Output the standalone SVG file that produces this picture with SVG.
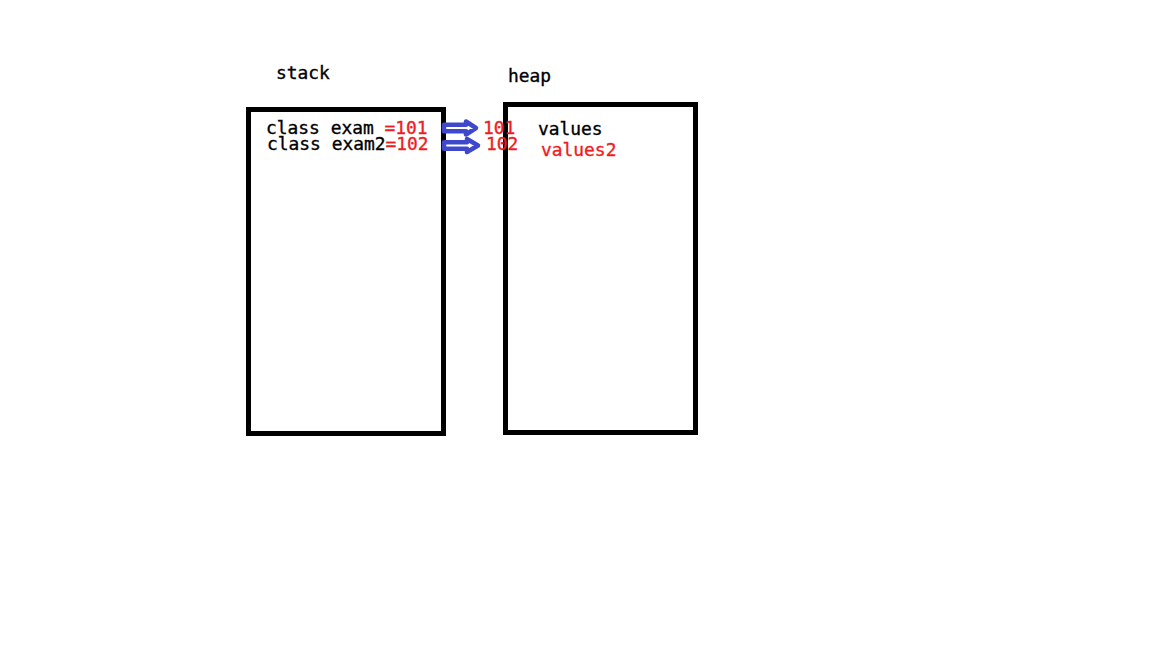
<svg xmlns="http://www.w3.org/2000/svg" width="1152" height="648" viewBox="0 0 1152 648">
<style>
.box{fill:none;stroke:#000;stroke-width:5}
.t{font-family:"DejaVu Sans Mono","Liberation Mono",monospace;font-size:17.9px;fill:#000;stroke:#000;stroke-width:0.35}
.r{fill:#ed1c24;stroke:#ed1c24}
.arr{fill:#fff;stroke:#3f48cc;stroke-width:4.5;stroke-linejoin:round}
</style>
<rect width="1152" height="648" fill="#fff"/>
<g id="stack">
<text class="t" x="276" y="79">stack</text>
<rect class="box" x="248.5" y="109.5" width="195" height="324"/>
<text class="t" x="266" y="134">class exam <tspan class="r">=101</tspan></text>
<text class="t" x="267" y="150">class exam2<tspan class="r">=102</tspan></text>
</g>
<g id="heap">
<text class="t" x="508" y="82">heap</text>
<rect class="box" x="505.5" y="104.5" width="190" height="328"/>
<text class="t r" x="483" y="134">101</text>
<text class="t r" x="486" y="150">102</text>
<text class="t" x="538" y="135">values</text>
<text class="t r" x="541" y="156">values2</text>
</g>
<g id="connectors">
<polygon class="arr" points="444,124.8 466,124.8 466,121.5 476,128 466,134.5 466,131.2 444,131.2"/>
<polygon class="arr" points="444,142.3 467,142.3 467,139 478,145.5 467,152 467,148.7 444,148.7"/>
</g>
</svg>
